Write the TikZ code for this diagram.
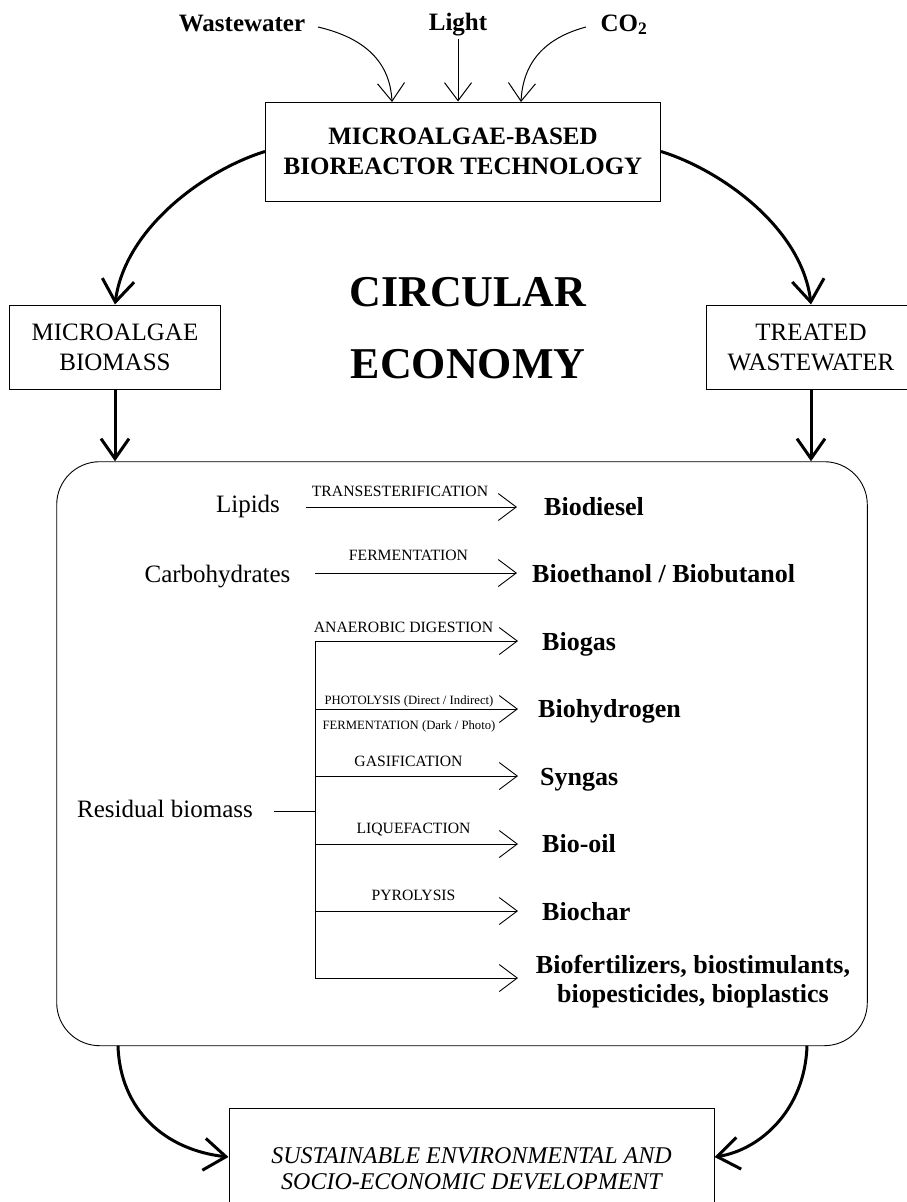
\documentclass[tikz,border=0pt]{standalone}
\usepackage{fontspec}
\setmainfont{Liberation Serif}
\usetikzlibrary{arrows.meta}
\begin{document}
\begin{tikzpicture}[x=1pt,y=-1pt,
  thinarr/.style={line width=1pt, -{Straight Barb[length=18pt,width=27pt]}},
  thickarr/.style={line width=3pt, -{Straight Barb[length=22pt,width=32pt]}},
  downarr/.style={line width=3pt, -{Straight Barb[length=20pt,width=28pt]}},
  boxst/.style={draw, line width=1pt, align=center},
  inlab/.style={font=\fontsize{25}{30}\selectfont\bfseries, anchor=base},
  srclab/.style={font=\fontsize{25}{30}\selectfont, anchor=base},
  plab/.style={font=\fontsize{15.7}{18}\selectfont, anchor=base, inner sep=0pt},
  slab/.style={font=\fontsize{12.7}{15}\selectfont, anchor=base, inner sep=0pt},
  prod/.style={font=\fontsize{26}{29}\selectfont\bfseries, anchor=base west, inner sep=0pt},
  procline/.style={line width=0.9pt},
]
\clip (0,0) rectangle (907,1202);
\useasboundingbox (0,0) rectangle (907,1202);

% inputs
\node[inlab] (ww) at (242,31) {Wastewater};
\node[inlab] (li) at (458,30) {Light};
\node[inlab] (co) at (624,31) {CO\textsubscript{2}};

% main boxes
\node[boxst, minimum width=395pt, minimum height=99pt, font=\fontsize{25}{30}\selectfont\bfseries] (bio) at (463,151.5) {MICROALGAE-BASED\\BIOREACTOR TECHNOLOGY};
\node[boxst, minimum width=211pt, minimum height=84pt, font=\fontsize{25}{30}\selectfont] (mb) at (115,347) {MICROALGAE\\BIOMASS};
\node[boxst, minimum width=210pt, minimum height=84pt, font=\fontsize{25}{30}\selectfont] (tw) at (811,347) {TREATED\\WASTEWATER};
\node[font=\fontsize{44}{72}\selectfont\bfseries, align=center] (ce) at (468,328.5) {CIRCULAR\\ECONOMY};
\node[draw, line width=0.9pt, rounded corners=43pt, minimum width=810.6pt, minimum height=584pt] (rb) at (462,753.7) {};
\node[boxst, minimum width=485pt, minimum height=121pt, font=\fontsize{24}{26}\selectfont\itshape] (sd) at (471.5,1168.5) {SUSTAINABLE ENVIRONMENTAL AND\\SOCIO-ECONOMIC DEVELOPMENT};

% input arrows
\coordinate (wws) at (318,27);
\coordinate (wwe) at (392,102);
\coordinate (cos) at (586,27);
\coordinate (coe) at (521,102);
\draw[thinarr] (wws) .. controls (365,38) and (390,62) .. (wwe);
\draw[thinarr] (li.south) -- (li.south |- bio.north);
\draw[thinarr] (cos) .. controls (545,38) and (523,62) .. (coe);

% thick arrows to side boxes
\draw[thickarr] (bio.west) .. controls (205,170) and (125,228) .. (mb.north);
\draw[thickarr] (bio.east) .. controls (721,170) and (802,228) .. (tw.north);
\draw[downarr] (mb.south) -- (mb.south |- rb.north);
\draw[downarr] (tw.south) -- (tw.south |- rb.north);

% bottom arrows
\coordinate (bls) at (118,1045.7);
\coordinate (brs) at (807,1045.7);
\draw[thickarr] (bls) .. controls (120,1110) and (165,1150) .. ([yshift=11.5pt]sd.west);
\draw[thickarr] (brs) .. controls (805,1110) and (760,1150) .. ([yshift=11.5pt]sd.east);

% sources
\node[srclab] (lip) at (248,512) {Lipids};
\node[srclab] (carb) at (217.5,582) {Carbohydrates};
\node[srclab] (res) at (165,817) {Residual biomass};

% process arrows
\coordinate (a1s) at (306,507); \coordinate (a1e) at (517,507);
\coordinate (a2s) at (315,573); \coordinate (a2e) at (517,573);
\coordinate (b1) at (315,641); \coordinate (e1) at (518,641);
\coordinate (b2) at (315,709); \coordinate (e2) at (518,709);
\coordinate (b3) at (315,776); \coordinate (e3) at (518,776);
\coordinate (b4) at (315,844); \coordinate (e4) at (518,844);
\coordinate (b5) at (315,911); \coordinate (e5) at (518,911);
\coordinate (b6) at (315,978); \coordinate (e6) at (518,978);
\coordinate (rs) at (274,811); \coordinate (rm) at (315,811);

\draw[thinarr, procline] (a1s) -- (a1e);
\draw[thinarr, procline] (a2s) -- (a2e);
\draw[procline] (b1) -- (b6);
\draw[procline] (rs) -- (rm);
\foreach \i in {1,...,6} { \draw[thinarr, procline] (b\i) -- (e\i); }

% process labels
\node[plab] (p1) at (400,496) {TRANSESTERIFICATION};
\node[plab] (p2) at (408.5,560) {FERMENTATION};
\node[plab] (p3) at (403.5,632) {ANAEROBIC DIGESTION};
\node[slab] (p4) at (409,704) {PHOTOLYSIS (Direct / Indirect)};
\node[slab] (p5) at (409,729) {FERMENTATION (Dark / Photo)};
\node[plab] (p6) at (408.5,766) {GASIFICATION};
\node[plab] (p7) at (413.5,833) {LIQUEFACTION};
\node[plab] (p8) at (413.5,900) {PYROLYSIS};

% products
\node[prod] (d1) at (544,515) {Biodiesel};
\node[prod] (d2) at (532,582) {Bioethanol / Biobutanol};
\node[prod] (d3) at (542,650) {Biogas};
\node[prod] (d4) at (538,717) {Biohydrogen};
\node[prod] (d5) at (540,785) {Syngas};
\node[prod] (d6) at (542,852) {Bio-oil};
\node[prod] (d7) at (542,920) {Biochar};
\node[font=\fontsize{26}{29}\selectfont\bfseries, align=center, inner sep=0pt] (d8) at (693,981.5) {Biofertilizers, biostimulants,\\biopesticides, bioplastics};
\end{tikzpicture}
\end{document}
